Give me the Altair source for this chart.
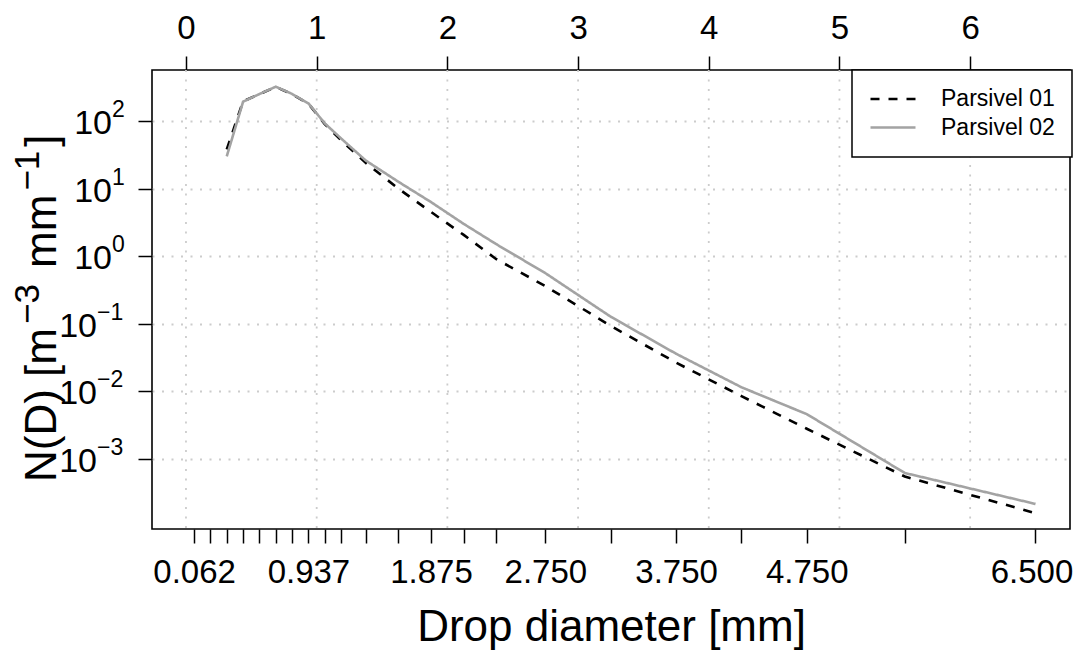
import altair as alt
import pandas as pd

# ---- data ----
diam = [0.312, 0.437, 0.562, 0.687, 0.812, 0.937, 1.062, 1.187, 1.375, 1.625,
        1.875, 2.125, 2.375, 2.75, 3.25, 3.75, 4.25, 4.75, 5.5, 6.5]
parsivel01 = [38, 195, 250, 318, 249, 180, 90, 52, 24, 10.0,
              4.5, 2.06, 0.9, 0.36, 0.093, 0.0266, 0.0085, 0.0028, 0.00055, 0.000158]
parsivel02 = [30, 193, 250, 321, 251, 182, 92, 55, 26, 12.6,
              6.3, 3.0, 1.5, 0.56, 0.127, 0.036, 0.0115, 0.0046, 0.00062, 0.000216]
series = ["Parsivel 01", "Parsivel 02"]

class_ticks = [0.062, 0.187, 0.312, 0.437, 0.562, 0.687, 0.812, 0.937, 1.062, 1.187,
               1.375, 1.625, 1.875, 2.125, 2.375, 2.75, 3.25, 3.75, 4.25, 4.75, 5.5, 6.5]
class_labels = [0.062, 0.937, 1.875, 2.75, 3.75, 4.75, 6.5]
top_ticks = [0, 1, 2, 3, 4, 5, 6]
y_ticks = [0.001, 0.01, 0.1, 1, 10, 100]
y_exponents = [-3, -2, -1, 0, 1, 2]

# y title pieces: (text, is_superscript)
y_title_pieces = [("N(D) [m", False), ("\u22123", True), ("mm", False),
                  ("\u22121", True), ("]", False)]
x_title = "Drop diameter [mm]"

FONT = "Liberation Sans"
W, H = 918, 459

rows = []
for s, vals in zip(series, [parsivel01, parsivel02]):
    for d, v in zip(diam, vals):
        rows.append({"D": d, "N": v, "series": s})
df = pd.DataFrame(rows)
grid_df = pd.DataFrame({"g": top_ticks})
exp_df = pd.DataFrame({"e": y_exponents})

x_dom = [-0.260, 6.764]
x_scale = alt.Scale(domain=x_dom, nice=False, zero=False)
y_scale = alt.Scale(type="log", domain=[9.2e-5, 567], nice=False)

y_axis = alt.Axis(values=y_ticks, labels=False, ticks=True, tickSize=14, tickWidth=1.5,
                  tickColor="black", domain=False, grid=True, gridDash=[2, 7.5],
                  gridColor="#cccccc", gridWidth=1.8, title=None)

label_js = "[" + ",".join(str(v) for v in class_labels) + "]"
x_axis = alt.Axis(orient="bottom", values=class_ticks,
                  labelExpr=f"indexof({label_js}, datum.value) >= 0 ? format(datum.value, '.3f') : ''",
                  tickSize=14, tickWidth=1.5, tickColor="black", labelFont=FONT,
                  labelFontSize=33, labelColor="black", labelPadding=13,
                  labelOffset={"condition": {"test": f"datum.value == {class_labels[-1]}",
                                             "value": -4}, "value": 0},
                  labelOverlap=False, labelFlush=False, labelBound=False,
                  domain=False, grid=False,
                  title=x_title, titleFont=FONT, titleFontSize=44,
                  titleFontWeight="normal", titleColor="black",
                  titleX=W / 2, titleY=111, titleBaseline="alphabetic", titleAlign="center")

top_axis = alt.Axis(orient="top", values=top_ticks, format="d", tickSize=14, tickWidth=1.5,
                    tickColor="black", labelFont=FONT, labelFontSize=33, labelColor="black",
                    labelPadding=11, labelOverlap=False, labelFlush=False, labelBound=False,
                    domain=False, grid=False, title=None)

legend = alt.Legend(orient="none", legendX=700, legendY=0, title=None,
                    strokeColor="black", fillColor="white", padding=17,
                    labelFont=FONT, labelFontSize=23, labelColor="black", labelOffset=24,
                    symbolType="stroke", symbolSize=2025, symbolStrokeWidth=2.6,
                    clipHeight=24, rowPadding=4.5, cornerRadius=0)

grid_layer = alt.Chart(grid_df).mark_rule(
    strokeDash=[2, 7.5], color="#cccccc", strokeWidth=1.8
).encode(x=alt.X("g:Q", scale=x_scale, axis=top_axis))

lines = alt.Chart(df).mark_line(strokeWidth=2.6).encode(
    x=alt.X("D:Q", scale=x_scale, axis=x_axis),
    y=alt.Y("N:Q", scale=y_scale, axis=y_axis),
    color=alt.Color("series:N", scale=alt.Scale(domain=series, range=["black", "#a3a3a3"]),
                    legend=legend),
    strokeDash=alt.StrokeDash("series:N",
                              scale=alt.Scale(domain=series, range=[[9, 9], [1, 0]]),
                              legend=legend),
    order=alt.Order("D:Q"),
)

base_lbl = alt.Chart(exp_df).transform_calculate(
    v="pow(10, datum.e)",
    sup="datum.e < 0 ? '\u2212' + abs(datum.e) : '' + datum.e",
)


def label_layer(cond, x_pos, text_field, align, size, dy):
    return base_lbl.transform_filter(cond).mark_text(
        align=align, baseline="middle", fontSize=size, font=FONT, color="black", dy=dy
    ).encode(
        y=alt.Y("v:Q", scale=y_scale, axis=y_axis),
        x=alt.value(x_pos),
        text=text_field,
    )


lbl_layers = [
    label_layer("datum.e >= 0", -40, alt.value("10"), "right", 34, 3),
    label_layer("datum.e >= 0", -40, alt.Text("sup:N"), "left", 23, -11),
    label_layer("datum.e < 0", -55, alt.value("10"), "right", 34, 3),
    label_layer("datum.e < 0", -55, alt.Text("sup:N"), "left", 23, -11),
]

# ---- rotated y-axis title built from pieces (plotmath-like superscripts) ----
ARIAL = {"N": .722, "(": .333, "D": .722, ")": .333, " ": .278, "[": .278, "]": .278,
         "m": .833, "\u2212": .584, "3": .556, "1": .556}
MAIN_FS, SUP_FS = 44, 35
base_x, sup_x = -96, -113
pos = 412.0
title_layers = []
for i, (txt, sup) in enumerate(y_title_pieces):
    fs = SUP_FS if sup else MAIN_FS
    if i > 0:
        pos -= 4 if (sup or y_title_pieces[i - 1][1]) else 0
        if txt == "mm":
            pos -= ARIAL[" "] * MAIN_FS
    title_layers.append(
        alt.Chart(grid_df).transform_filter("datum.g == 0").mark_text(
            text=txt, angle=270, align="left", baseline="alphabetic",
            fontSize=fs, font=FONT, color="black"
        ).encode(x=alt.value(sup_x if sup else base_x), y=alt.value(pos))
    )
    pos -= sum(ARIAL.get(c, .556) for c in txt) * fs

chart = alt.layer(
    grid_layer, lines, *lbl_layers, *title_layers
).resolve_scale(x="independent").properties(
    width=W, height=H,
    autosize=alt.AutoSizeParams(type="none"),
    padding={"left": 144, "top": 62, "right": 4, "bottom": 121},
).configure(font=FONT).configure_view(
    stroke="black", strokeWidth=1.6
).configure_legend(strokeWidth=1.5)

chart.save("out.html", embed_options={"renderer": "svg", "actions": False})
